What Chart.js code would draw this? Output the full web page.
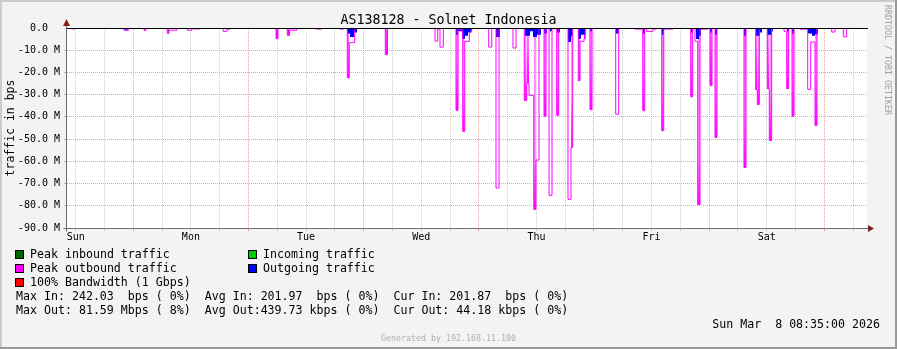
<!DOCTYPE html>
<html>
<head>
<meta charset="utf-8">
<script src="https://cdn.jsdelivr.net/npm/chart.js@4.4.1/dist/chart.umd.min.js"></script>
<style>
  body { margin: 0; background: #f3f3f3; }
  #wrap { position: relative; width: 897px; height: 349px; overflow: hidden; }
  canvas { position: absolute; left: 0; top: 0; }
  .t { position: absolute; font-family: 'DejaVu Sans Mono', monospace; font-size: 11.62px; line-height: 14px; white-space: pre; color: #000; }
  .sw { position: absolute; width: 7px; height: 7px; border: 1px solid #000; }
</style>
</head>
<body>
<div id="wrap">
  <canvas id="chart" width="897" height="349"></canvas>
  <div class="t" style="left:0;top:12px;width:897px;text-align:center;font-size:13.3px;line-height:16px">AS138128 - Solnet Indonesia</div>
  <div class="t" style="left:883px;top:5px;writing-mode:vertical-rl;font-size:8.3px;line-height:10px;color:#a0a0a0">RRDTOOL / TOBI OETIKER</div>

  <span class="sw" style="left:15px;top:250px;background:#006600"></span>
  <div class="t" style="left:30px;top:247px">Peak inbound traffic</div>
  <span class="sw" style="left:248px;top:250px;background:#00cc00"></span>
  <div class="t" style="left:263px;top:247px">Incoming traffic</div>
  <span class="sw" style="left:15px;top:264px;background:#ff00ff"></span>
  <div class="t" style="left:30px;top:261px">Peak outbound traffic</div>
  <span class="sw" style="left:248px;top:264px;background:#0000ff"></span>
  <div class="t" style="left:263px;top:261px">Outgoing traffic</div>
  <span class="sw" style="left:15px;top:278px;background:#ff0000"></span>
  <div class="t" style="left:30px;top:275px">100% Bandwidth (1 Gbps)</div>
  <div class="t" style="left:16px;top:289px">Max In: 242.03  bps ( 0%)  Avg In: 201.97  bps ( 0%)  Cur In: 201.87  bps ( 0%)</div>
  <div class="t" style="left:16px;top:303px">Max Out: 81.59 Mbps ( 8%)  Avg Out:439.73 kbps ( 0%)  Cur Out: 44.18 kbps ( 0%)</div>
  <div class="t" style="right:17px;top:317px">Sun Mar  8 08:35:00 2026</div>
  <div class="t" style="left:0;top:333px;width:897px;text-align:center;font-size:8.3px;line-height:10px;color:#b0b0b0">Generated by 192.168.11.100</div>
</div>
<script>
// x = hours since Sun 00:00 (Mar 1), y = Mbps (outbound drawn negative)
const X_MIN = 10.18;
const X_MAX = 176.89;
const dayNames = ['Sun', 'Mon', 'Tue', 'Wed', 'Thu', 'Fri', 'Sat'];

// peak outbound (stepped, value holds until next point)
const peakOutHours = [
  10.18, 11.16, 12.00, 22.05, 22.96, 26.23, 26.65, 31.08, 31.43, 33.04,
  35.25, 36.17, 37.90, 42.75, 43.53, 44.15, 53.74, 54.15, 56.09, 56.54,
  58.05, 62.22, 63.25, 67.07, 67.76, 68.59, 69.01, 70.13, 76.51, 76.97,
  86.87, 87.43, 87.91, 88.60, 91.24, 91.67, 92.64, 93.06, 94.01, 94.51,
  98.06, 98.69, 99.58, 100.21, 103.12, 103.75, 105.47, 105.98, 106.46, 107.44,
  107.91, 108.54, 109.59, 110.00, 110.63, 111.25, 112.22, 112.65, 114.58, 115.21,
  115.56, 116.73, 117.09, 117.92, 118.19, 119.16, 119.59, 124.52, 125.15, 128.55,
  130.16, 130.57, 130.99, 132.30, 132.92, 134.11, 134.53, 136.46, 140.15, 140.57,
  141.05, 141.61, 142.09, 143.76, 144.18, 144.59, 145.22, 145.63, 151.26, 151.68,
  153.70, 154.03, 154.45, 156.12, 156.53, 157.03, 159.60, 160.16, 160.57, 161.27,
  161.68, 162.93, 164.53, 165.16, 166.06, 166.47, 169.54, 170.22, 171.96, 172.66,
  176.89
];
const peakOutMbps = [
  0, -0.4, 0, -1.0, 0, -1.0, 0, -2.4, -1.0, 0,
  -1.0, -0.4, 0, -1.5, -0.5, 0, -4.8, 0, -3.3, -1.0,
  0, -0.5, 0, -0.5, 0, -22.4, -6.6, 0, -12.0, 0,
  -5.9, -0.5, -8.6, 0, -37.0, -0.5, -46.5, -6.0, -1.8, 0,
  -8.6, 0, -72.0, 0, -9.0, 0, -32.6, -24.8, -30.3, -81.6,
  -59.4, 0, -39.7, 0, -75.3, 0, -39.3, 0, -77.1, -53.7,
  0, -23.7, -6.0, -4.8, 0, -36.7, 0, -38.8, 0, -0.5,
  -37.2, 0, -1.5, -0.5, 0, -46.2, -0.5, 0, -30.9, 0,
  -6.0, -79.5, -0.5, 0, -25.8, 0, -49.3, 0, -62.8, 0,
  -27.7, -34.4, 0, -27.3, -50.6, 0, -1.5, -27.3, 0, -39.7,
  0, -0.5, -27.6, -6.3, -43.8, 0, -1.8, 0, -4.0, 0,
  0
];

// outgoing average
const outHours = [
  10.18, 22.05, 22.90, 68.53, 69.15, 69.99, 70.61, 91.24, 91.67, 92.50,
  93.12, 93.74, 94.37, 99.58, 100.41, 105.63, 106.67, 107.29, 108.12, 108.95,
  109.59, 110.21, 110.83, 111.25, 112.29, 112.92, 114.58, 115.21, 115.62, 116.67,
  117.29, 118.13, 119.16, 119.59, 124.59, 125.21, 130.22, 130.63, 134.18, 134.59,
  140.21, 140.64, 141.26, 141.88, 142.30, 144.18, 144.59, 145.22, 145.63, 151.26,
  151.68, 153.76, 154.60, 155.01, 156.05, 157.09, 157.30, 160.22, 160.63, 161.27,
  161.68, 164.60, 165.43, 166.06, 166.68, 176.89
];
const outMbps = [
  0, -0.8, 0, -2.5, -4.0, -2.0, 0, -3.0, -1.5, -4.8,
  -3.5, -2.0, 0, -4.0, 0, -3.5, -1.5, -4.0, -3.0, 0,
  -2.5, 0, -1.5, 0, -2.0, 0, -6.3, -3.5, 0, -4.8,
  -3.0, 0, -1.5, 0, -2.5, 0, -2.5, 0, -3.0, 0,
  -2.0, 0, -5.0, -3.5, 0, -2.0, 0, -3.0, 0, -3.5,
  0, -3.5, -2.0, 0, -3.0, -1.5, 0, -1.5, 0, -2.5,
  0, -2.5, -3.5, -2.8, 0, 0
];

const RED = '#eea0a0';
const GRAY = '#cacaca';

const peakOut = peakOutHours.map((h, i) => ({ x: h, y: peakOutMbps[i] }));
const outAvg = outHours.map((h, i) => ({ x: h, y: outMbps[i] }));

const xGrid = [];
for (let h = 12; h < X_MAX; h += 6) xGrid.push(h);
const yGrid = [];
for (let v = -90; v <= 0; v += 5) yGrid.push(v);

// gradient fill only inside the narrow spikes, magenta at the bottom
function spikeFill(c) {
  const zero = c.chart.scales.y.getPixelForValue(0);
  if (c.p1.x - c.p0.x > 2.5 || c.p0.y - zero < 2) return 'rgba(0,0,0,0)';
  const g = c.chart.ctx.createLinearGradient(0, c.p0.y, 0, c.p0.y - 50);
  g.addColorStop(0, '#ff00ff');
  g.addColorStop(1, '#ff8cff');
  return g;
}

function xGridColor(c) {
  return c.tick && c.tick.value % 24 === 0 ? RED : GRAY;
}
function yGridColor(c) {
  if (!c.tick) return GRAY;
  if (c.tick.value === 0) return 'rgba(0,0,0,0)';
  return c.tick.value % 10 === 0 ? RED : GRAY;
}

const rrdFrame = {
  id: 'rrdFrame',
  beforeDraw(chart) {
    const { ctx, chartArea: a, width, height } = chart;
    ctx.save();
    ctx.fillStyle = '#f3f3f3';
    ctx.fillRect(0, 0, width, height);
    ctx.fillStyle = '#cbcbcb';
    ctx.fillRect(0, 0, width, 2);
    ctx.fillRect(0, 0, 2, height);
    ctx.fillStyle = '#999999';
    ctx.fillRect(0, height - 2, width, 2);
    ctx.fillRect(width - 2, 0, 2, height);
    ctx.fillStyle = '#ffffff';
    ctx.fillRect(a.left, a.top, a.right - a.left, a.bottom - a.top);
    ctx.restore();
  },
  afterDatasetsDraw(chart) {
    const { ctx, chartArea: a, scales } = chart;
    const y0 = Math.round(scales.y.getPixelForValue(0)) + 0.5;
    const xl = Math.round(a.left) - 0.5;
    const yb = Math.round(a.bottom) + 0.5;
    ctx.save();
    ctx.lineWidth = 1;
    ctx.setLineDash([]);
    // zero rule
    ctx.strokeStyle = '#000000';
    ctx.beginPath();
    ctx.moveTo(a.left, y0);
    ctx.lineTo(a.right + 1, y0);
    ctx.stroke();
    // axes
    ctx.strokeStyle = '#6e6e6e';
    ctx.beginPath();
    ctx.moveTo(xl, a.top - 6);
    ctx.lineTo(xl, yb + 3);
    ctx.moveTo(xl - 3, yb);
    ctx.lineTo(a.right + 3, yb);
    ctx.stroke();
    // arrows
    ctx.fillStyle = '#7f1f1f';
    ctx.beginPath();
    ctx.moveTo(xl, a.top - 9);
    ctx.lineTo(xl - 3.5, a.top - 2);
    ctx.lineTo(xl + 3.5, a.top - 2);
    ctx.closePath();
    ctx.fill();
    ctx.beginPath();
    ctx.moveTo(a.right + 7, yb);
    ctx.lineTo(a.right + 1, yb - 3.5);
    ctx.lineTo(a.right + 1, yb + 3.5);
    ctx.closePath();
    ctx.fill();
    ctx.restore();
  }
};

const monoTicks = { family: 'DejaVu Sans Mono', size: 10 };

new Chart(document.getElementById('chart'), {
  type: 'line',
  data: {
    datasets: [
      {
        label: 'Peak outbound traffic',
        data: peakOut,
        stepped: true,
        borderColor: '#ff00ff',
        borderWidth: 1,
        pointRadius: 0,
        fill: false,
      },
      {
        label: 'Outgoing traffic',
        data: outAvg,
        stepped: true,
        borderColor: 'rgba(0,0,0,0)',
        borderWidth: 1,
        backgroundColor: '#0000ff',
        pointRadius: 0,
        fill: 'origin',
      },
      {
        label: 'Peak outbound area',
        data: peakOut,
        stepped: true,
        borderColor: 'rgba(0,0,0,0)',
        borderWidth: 1,
        backgroundColor: 'rgba(0,0,0,0)',
        pointRadius: 0,
        fill: 'origin',
        segment: { backgroundColor: spikeFill },
      },
    ],
  },
  options: {
    responsive: false,
    animation: false,
    events: [],
    layout: { padding: { top: 28, right: 30, bottom: 101, left: 0 } },
    plugins: {
      legend: { display: false },
      tooltip: { enabled: false },
    },
    scales: {
      x: {
        type: 'linear',
        min: X_MIN,
        max: X_MAX,
        afterBuildTicks: (s) => { s.ticks = xGrid.map((v) => ({ value: v })); },
        afterFit: (s) => { s.height = 20; },
        grid: { color: xGridColor, tickColor: xGridColor, drawTicks: true, tickLength: 3 },
        border: { display: false, dash: [1, 1] },
        ticks: {
          autoSkip: false,
          maxRotation: 0,
          padding: 0,
          color: '#000',
          font: monoTicks,
          callback: (v) => ((v - 12) % 24 === 0 ? dayNames[(v - 12) / 24] : ''),
        },
      },
      y: {
        min: -90,
        max: 0,
        afterBuildTicks: (s) => { s.ticks = yGrid.map((v) => ({ value: v })); },
        afterFit: (s) => { s.width = 67; },
        grid: { color: yGridColor, tickColor: yGridColor, drawTicks: true, tickLength: 3 },
        border: { display: false, dash: [1, 1] },
        ticks: {
          padding: 4,
          color: '#000',
          font: monoTicks,
          callback: (v) => (v === 0 ? '0.0  ' : v % 10 === 0 ? v.toFixed(1) + ' M' : ''),
        },
        title: {
          display: true,
          text: 'traffic in bps',
          color: '#000',
          font: { family: 'DejaVu Sans Mono', size: 11.5 },
          padding: { top: 4, bottom: 0 },
        },
      },
    },
  },
  plugins: [rrdFrame],
});
</script>
</body>
</html>
